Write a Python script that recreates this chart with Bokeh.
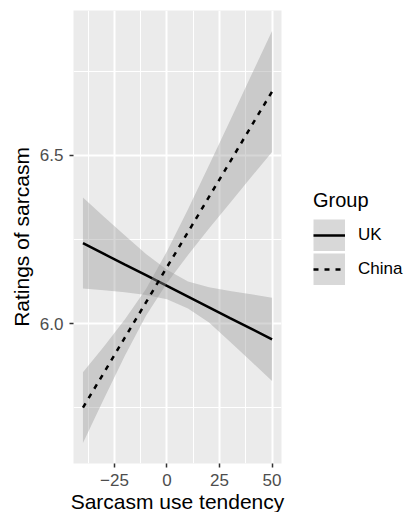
from bokeh.plotting import figure
from bokeh.models import (ColumnDataSource, Range1d, FixedTicker, Legend,
                          LegendItem)
from bokeh.embed import file_html
from bokeh.resources import INLINE

# Fitted ratings and 95% confidence band, by sarcasm use tendency
tendency = [-40, -30, -20, -10, 0, 10, 20, 30, 40, 50]

uk_fit = [6.239, 6.207, 6.175, 6.144, 6.112, 6.080, 6.048, 6.016, 5.985, 5.953]
uk_upper = [6.375, 6.318, 6.262, 6.207, 6.160, 6.125, 6.108, 6.097, 6.087, 6.077]
uk_lower = [6.104, 6.099, 6.093, 6.085, 6.072, 6.045, 6.003, 5.946, 5.888, 5.829]

china_fit = [5.750, 5.854, 5.959, 6.063, 6.168, 6.272, 6.377, 6.481, 6.586, 6.690]
china_upper = [5.855, 5.932, 6.013, 6.103, 6.215, 6.340, 6.471, 6.603, 6.737, 6.870]
china_lower = [5.645, 5.776, 5.905, 6.023, 6.121, 6.204, 6.283, 6.359, 6.435, 6.510]

groups = ["UK", "China"]

x_breaks = [-25, 0, 25, 50]
x_labels = ["\u221225", "0", "25", "50"]
x_minor_breaks = [-37.5, -12.5, 12.5, 37.5]
y_breaks = [6.0, 6.5]
y_labels = ["6.0", "6.5"]
y_minor_breaks = [5.75, 6.25, 6.75]

FONT = "Liberation Sans"

src = ColumnDataSource(data=dict(
    x=tendency,
    uk_fit=uk_fit, uk_upper=uk_upper, uk_lower=uk_lower,
    china_fit=china_fit, china_upper=china_upper, china_lower=china_lower,
))


def expanded(lo, hi, frac=0.05):
    pad = (hi - lo) * frac
    return lo - pad, hi + pad


x0, x1 = expanded(min(tendency), max(tendency))
y0, y1 = expanded(min(uk_lower + china_lower), max(uk_upper + china_upper))

p = figure(
    frame_width=208, frame_height=453,
    min_border_left=73, min_border_right=124,
    min_border_top=10, min_border_bottom=49,
    x_range=Range1d(x0, x1), y_range=Range1d(y0, y1),
    output_backend="svg", toolbar_location=None,
    background_fill_color="#EBEBEB", border_fill_color="white",
    outline_line_color=None,
)

band_kw = dict(fill_color="#999999", fill_alpha=0.4)
line_kw = dict(line_color="black", line_width=2.5)

# UK: band then line, China: band then dashed line
p.varea(x="x", y1="uk_lower", y2="uk_upper", source=src, **band_kw)
uk_line = p.line(x="x", y="uk_fit", source=src, **line_kw)
p.varea(x="x", y1="china_lower", y2="china_upper", source=src, **band_kw)
china_line = p.line(x="x", y="china_fit", source=src, line_dash="5 6", **line_kw)

# legend key backgrounds: a single undefined quad, so only the legend shows it
nan = float("nan")
key_src = ColumnDataSource(data=dict(l=[nan], r=[nan], t=[nan], b=[nan]))
key_kw = dict(fill_color="#D8D8D8", line_color="#D8D8D8", line_width=6.4,
              line_join="miter")
uk_key = p.quad(left="l", right="r", top="t", bottom="b", source=key_src, **key_kw)
china_key = p.quad(left="l", right="r", top="t", bottom="b", source=key_src, **key_kw)

# axes
p.xaxis.ticker = FixedTicker(ticks=x_breaks, minor_ticks=x_minor_breaks)
p.yaxis.ticker = FixedTicker(ticks=y_breaks, minor_ticks=y_minor_breaks)
p.xaxis.major_label_overrides = dict(zip(x_breaks, x_labels))
p.yaxis.major_label_overrides = dict(zip(y_breaks, y_labels))
p.xaxis.axis_label = "Sarcasm use tendency"
p.yaxis.axis_label = "Ratings of sarcasm"

for ax in (p.xaxis[0], p.yaxis[0]):
    ax.axis_line_color = None
    ax.minor_tick_line_color = None
    ax.major_tick_in = 0
    ax.major_tick_out = 4
    ax.major_tick_line_color = "#333333"
    ax.major_tick_line_width = 1.5
    ax.major_label_text_font = FONT
    ax.major_label_text_font_size = "17px"
    ax.major_label_text_color = "#4D4D4D"
    ax.axis_label_text_font = FONT
    ax.axis_label_text_font_size = "21px"
    ax.axis_label_text_font_style = "normal"
    ax.axis_label_text_color = "black"

p.xaxis.major_label_standoff = 6
p.xaxis.axis_label_standoff = 1
p.yaxis.major_label_standoff = 6
p.yaxis.axis_label_standoff = 4

for g in (p.xgrid[0], p.ygrid[0]):
    g.grid_line_color = "white"
    g.grid_line_width = 2
    g.minor_grid_line_color = "white"
    g.minor_grid_line_width = 1.1

legend = Legend(
    items=[
        LegendItem(label=groups[0], renderers=[uk_key, uk_line]),
        LegendItem(label=groups[1], renderers=[china_key, china_line]),
    ],
    title="Group",
    location=(32, 178),
    orientation="vertical",
    glyph_width=32, glyph_height=32, spacing=2,
    label_standoff=13, label_width=76, padding=0, margin=0,
    border_line_color=None, background_fill_alpha=0,
    label_text_font=FONT, label_text_font_size="17px",
    label_text_color="black",
    title_text_font=FONT, title_text_font_size="20px",
    title_text_font_style="normal", title_text_color="black",
    title_standoff=7,
)
p.add_layout(legend, "right")

open("out.html", "w").write(file_html(p, INLINE))
